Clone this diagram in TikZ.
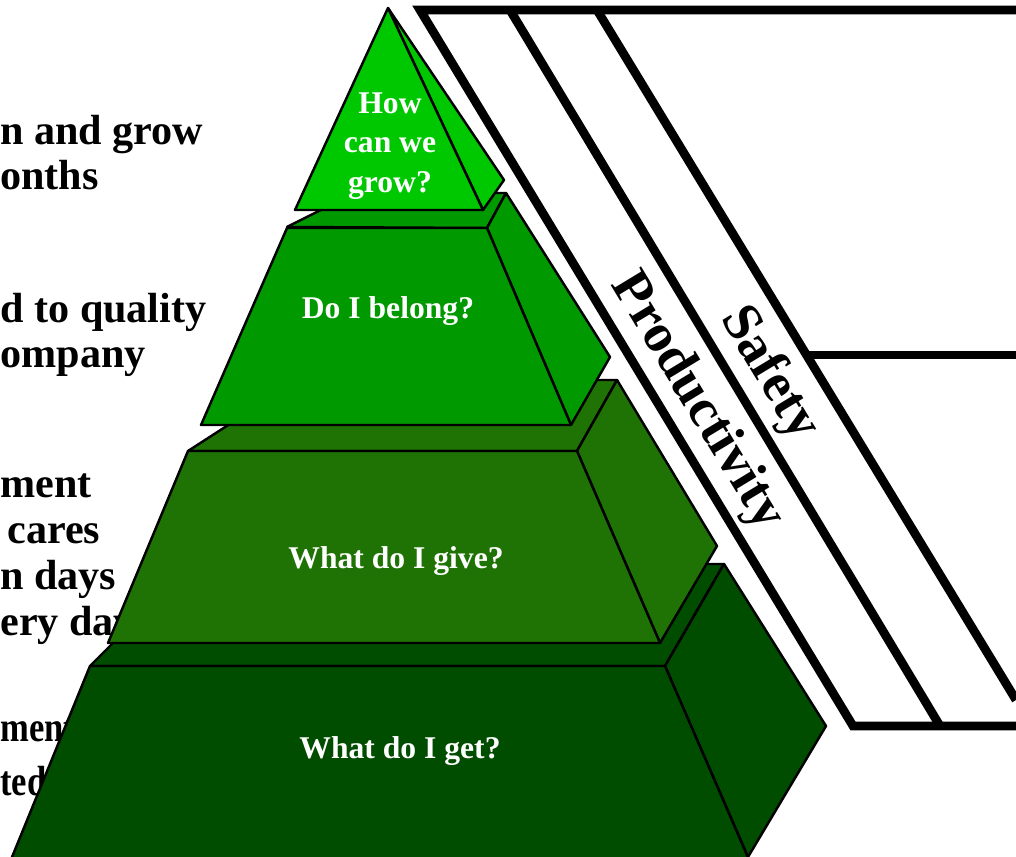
\documentclass[tikz,border=0pt]{standalone}
\usepackage{fontspec}
\setmainfont{Liberation Serif}
\usetikzlibrary{calc}

\definecolor{tiertop}{HTML}{00C800}
\definecolor{tiertwo}{HTML}{009900}
\definecolor{tierthree}{HTML}{1F7305}
\definecolor{tierfour}{HTML}{004D00}

\tikzset{
  tier/.style={draw=black, line width=1.4pt, line join=round},
  band/.style={line width=5pt, line join=miter},
  sidetext/.style={font=\fontsize{24}{26}\selectfont\bfseries, align=left, anchor=base west, inner sep=0pt},
  tiertext/.style={font=\fontsize{18}{22.4}\selectfont\bfseries, text=white, align=center},
  bandtext/.style={font=\fontsize{31}{36}\selectfont\bfseries, rotate=-58.8}
}

\begin{document}
\begin{tikzpicture}[x=0.02cm,y=-0.02cm]
  \useasboundingbox (0,0) rectangle (1016,857);

  % Left hand texts (partly hidden by the pyramid)
  \node[sidetext] (growtxt) at (0,190) {n and grow\\onths};
  \node[sidetext] (qualtxt) at (0,368) {d to quality\\ompany};
  \node[sidetext] (caretxt) at (0,635) {ment\\\hspace*{10\pgflinewidth}cares\\n days\\ery day};
  \node[sidetext, xscale=0.82, transform shape] (mentxt) at (0,795) {ment\\[4.5pt]ted};

  % Bands behind the pyramid
  \coordinate (b1s) at (420,10);
  \coordinate (b1e) at (853,726);
  \coordinate (b2s) at (510,10);
  \coordinate (b2e) at (940,726);
  \coordinate (b3s) at (597,10);
  \coordinate (b3e) at (1016,700);
  \draw[band] (1016,10) -- (b1s) -- (b1e) -- (1016,726);
  \draw[band] (b2s) -- (b2e);
  \draw[band] (b3s) -- (b3e);
  \draw[band] ($(b3s)!0.5!(b3e)$) -- (1016,355);

  \node[bandtext] (prodtxt) at (697,402) {Productivity};
  \node[bandtext] (safetxt) at (769,374) {Safety};

  % Bottom tier
  \filldraw[tier, fill=tierfour] (90,666) -- (192,564) -- (724,564) -- (665,666) -- cycle;
  \filldraw[tier, fill=tierfour] (665,666) -- (724,564) -- (826,726) -- (748,857) -- cycle;
  \filldraw[tier, fill=tierfour] (90,666) -- (665,666) -- (750,862) -- (10,862) -- cycle;
  \node[tiertext] (gettxt) at (400,751) {What do I get?};

  % Third tier
  \filldraw[tier, fill=tierthree] (188,451) -- (298,380) -- (617,380) -- (577,451) -- cycle;
  \filldraw[tier, fill=tierthree] (577,451) -- (617,380) -- (717,546) -- (660,643) -- cycle;
  \filldraw[tier, fill=tierthree] (188,451) -- (577,451) -- (660,643) -- (108,643) -- cycle;
  \node[tiertext] (givetxt) at (396,561) {What do I give?};

  % Second tier
  \filldraw[tier, fill=tiertwo] (287,227) -- (355,193) -- (506,193) -- (487,228) -- cycle;
  \filldraw[tier, fill=tiertwo] (487,228) -- (506,193) -- (610,357) -- (571,425) -- cycle;
  \filldraw[tier, fill=tiertwo] (287,228) -- (487,228) -- (571,425) -- (201,425) -- cycle;
  \node[tiertext] (belongtxt) at (388,311) {Do I belong?};

  % Top tier
  \filldraw[tier, fill=tiertop] (388,8) -- (504,180) -- (483,210) -- cycle;
  \filldraw[tier, fill=tiertop] (388,8) -- (483,210) -- (295,210) -- cycle;
  \node[tiertext] (growqtxt) at (390,146) {How\\can we\\grow?};
\end{tikzpicture}
\end{document}
